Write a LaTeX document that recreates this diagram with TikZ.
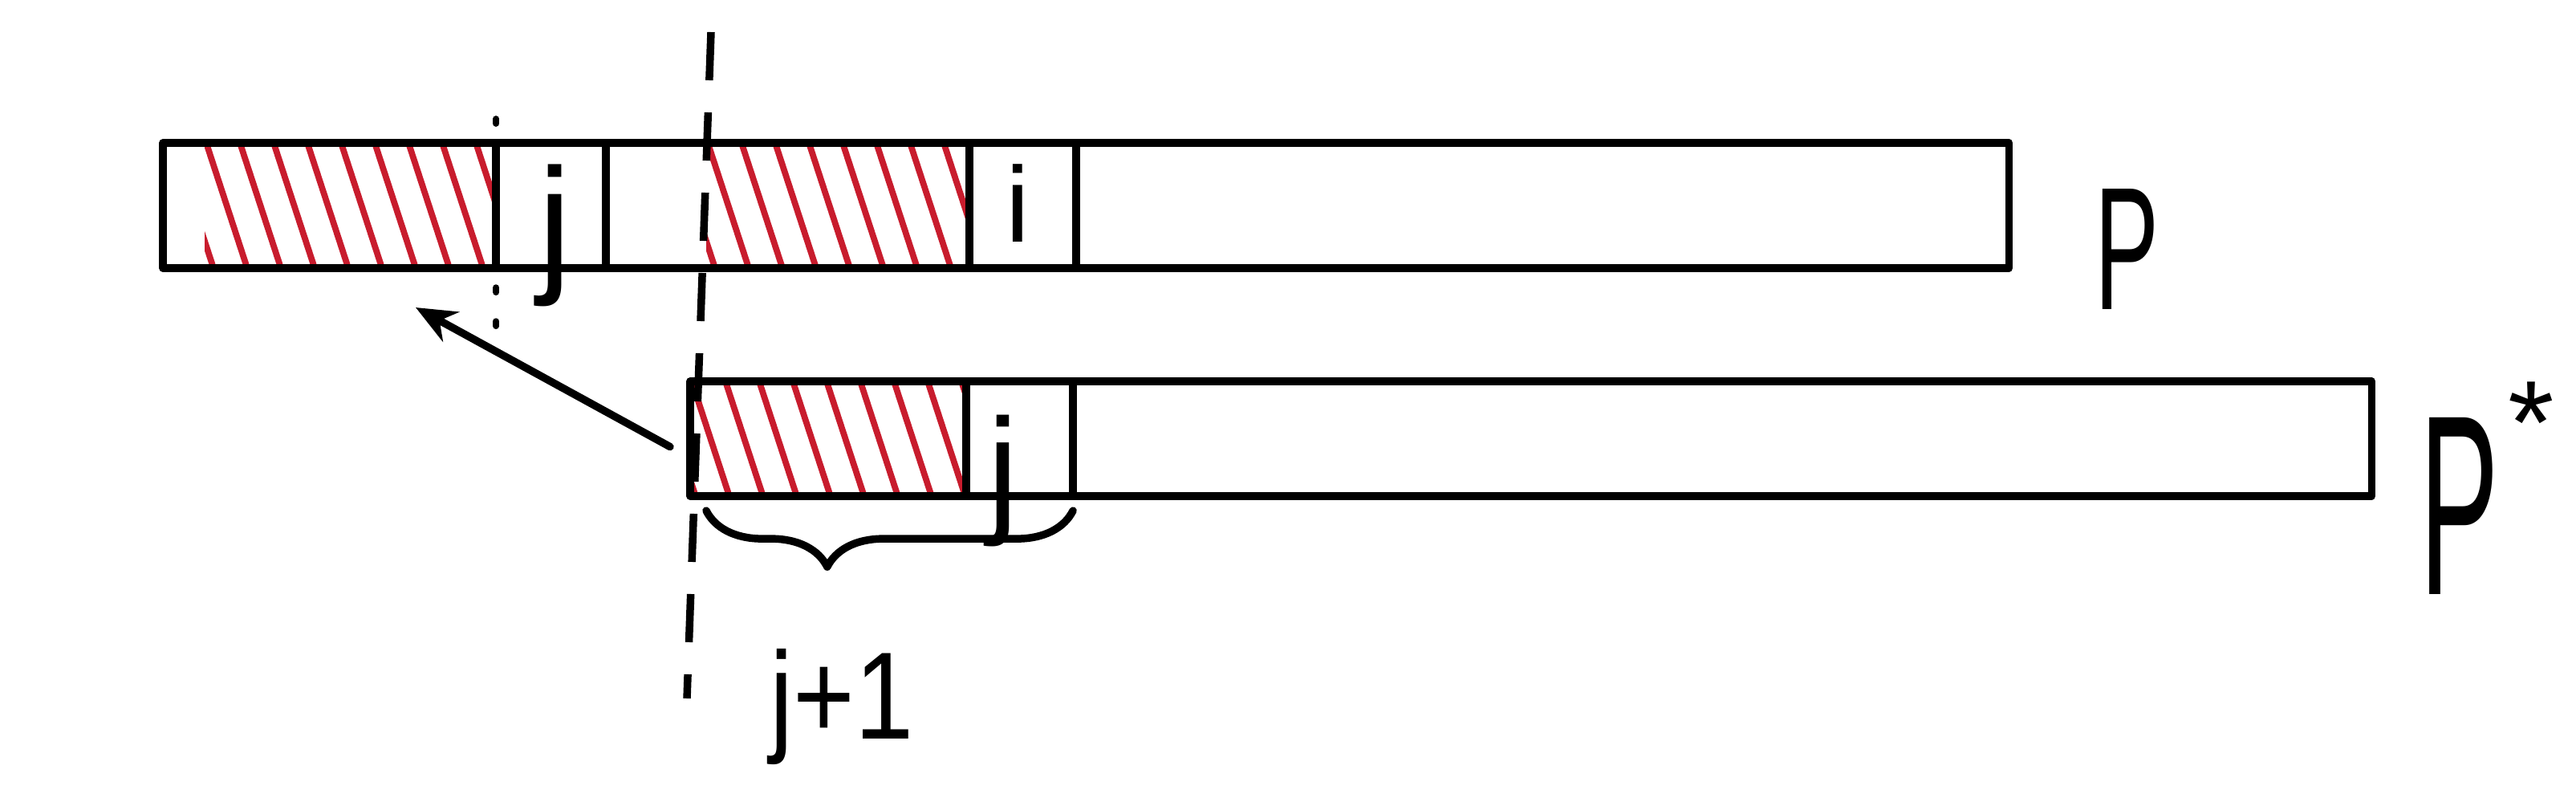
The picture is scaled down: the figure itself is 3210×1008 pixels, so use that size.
\documentclass[tikz,border=0pt]{standalone}
\usepackage{fontspec}
\setmainfont{Liberation Sans}
\usetikzlibrary{arrows.meta,decorations.pathreplacing,calc}
\definecolor{hatchred}{RGB}{200,28,45}
\begin{document}
\begin{tikzpicture}[x=0.01cm,y=-0.01cm,
  ink/.style={draw=black,line width=2.7pt,line cap=round,line join=round},
  barbox/.style={ink,rectangle,inner sep=0pt,outer sep=0pt,anchor=north west},
  hatchline/.style={draw=hatchred,line width=2.2pt,line cap=round},
  hatchbox/.style={rectangle,inner sep=0pt,outer sep=0pt,anchor=north west,
    path picture={
      \foreach \k in {-40,2,...,700}{
        \draw[hatchline] ($(path picture bounding box.north west)+(\k,0)$) -- ++(54,165);
      }}},
  lbl/.style={inner sep=0pt,outer sep=0pt,text=black},
  cutline/.style={draw=black,line width=2.7pt,dash pattern=on 0.6cm off 0.4cm},
  dotline/.style={draw=black,line width=2.2pt,line cap=round,dash pattern=on 0.06cm off 0.36cm}
]
\fill[white] (0,0) rectangle (3210,1008);
\useasboundingbox (0,0) rectangle (3210,1008);

% ---- top bar P ----
\node[hatchbox,minimum width=3.63cm,minimum height=1.56cm] (hA) at (255,178) {};
\node[hatchbox,minimum width=3.28cm,minimum height=1.56cm] (hB) at (880,178) {};
\node[barbox,minimum width=22.99cm,minimum height=1.56cm] (barP) at (203,178) {};
\node[rectangle,inner sep=0pt,outer sep=0pt,anchor=north west,minimum width=1.37cm,minimum height=1.56cm] (cj) at (618,178) {};
\node[rectangle,inner sep=0pt,outer sep=0pt,anchor=north west,minimum width=1.33cm,minimum height=1.56cm] (ci) at (1208,178) {};
\draw[ink] (hA.north east) -- (hA.south east);
\draw[ink] (cj.north east) -- (cj.south east);
\draw[ink] (ci.north west) -- (ci.south west);
\draw[ink] (ci.north east) -- (ci.south east);

% ---- bottom bar P* ----
\node[hatchbox,minimum width=3.44cm,minimum height=1.43cm] (hC) at (860,475) {};
\node[barbox,minimum width=20.94cm,minimum height=1.43cm] (barQ) at (860,475) {};
\node[rectangle,inner sep=0pt,outer sep=0pt,anchor=north west,minimum width=1.33cm,minimum height=1.43cm] (cj2) at (1204,475) {};
\draw[ink] (cj2.north west) -- (cj2.south west);
\draw[ink] (cj2.north east) -- (cj2.south east);

% ---- cut lines ----
\coordinate (cutT) at (886,40);
\coordinate (cutB) at (856,870);
\draw[cutline] (cutT) -- (cutB);
\draw[dotline] ($(hA.north east)+(0,-30)$) -- ($(hA.south east)+(0,75)$);

% ---- arrow ----
\coordinate (arrowtip) at (518,383);
\draw[ink,-{Stealth[length=0.5cm,width=0.42cm]}] ($(barQ.west)+(-25,10)$) -- (arrowtip);

% ---- brace ----
\draw[ink,decorate,decoration={brace,mirror,amplitude=0.7cm,aspect=0.33}]
  ($(hC.south west)+(20,18)$) -- ($(cj2.south east)+(0,18)$);

% ---- labels ----
\node[lbl,font=\fontsize{54}{60}\selectfont] (lj1) at (692,293) {j};
\node[lbl,font=\fontsize{38}{44}\selectfont] (li) at (1268,253) {i};
\node[lbl,font=\fontsize{50}{56}\selectfont] (lj2) at (1250,599) {j};
\node[lbl,font=\fontsize{44}{50}\selectfont] (ljp) at (1049,880) {\scalebox{0.85}[1]{j+1}};
\node[lbl,font=\fontsize{62}{68}\selectfont,anchor=base west] (lP) at (2610,385) {\scalebox{0.55}[1]{P}};
\node[lbl,font=\fontsize{70}{76}\selectfont,anchor=base west] (lPs) at (3015,740) {\scalebox{0.6}[1.3]{P}\hspace{0.05em}\raisebox{0.66em}{\scalebox{0.6}{*}}};
\end{tikzpicture}
\end{document}
